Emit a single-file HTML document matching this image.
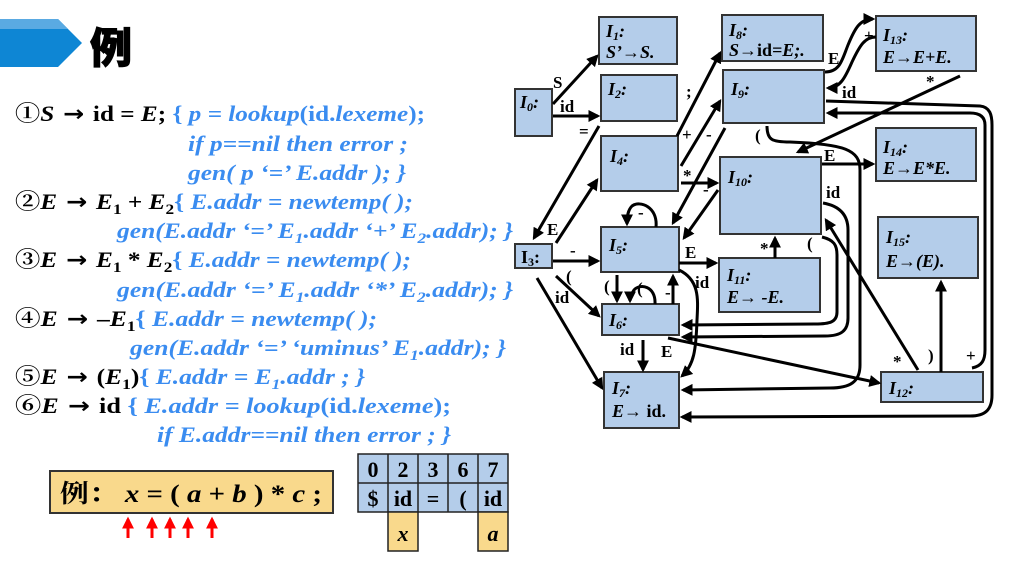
<!DOCTYPE html>
<html><head><meta charset="utf-8"><style>
html,body{margin:0;padding:0;background:#fff;width:1020px;height:572px;overflow:hidden}
svg{display:block}
.t{font-family:"Liberation Serif","Noto Serif CJK SC",serif;font-weight:bold}
.b{fill:#3a8cf0}
.k{fill:#000}
.ar{font-family:"DejaVu Sans",sans-serif;font-weight:bold}
.box{fill:#b4cdea;stroke:#333;stroke-width:2}
.e{fill:none;stroke:#000;stroke-width:3}
.lb{font-family:"Liberation Serif",serif;font-weight:bold;font-size:17px}
.nl{font-family:"Liberation Serif",serif;font-weight:bold;font-style:italic;font-size:18px}
</style></head><body>
<svg width="1020" height="572" viewBox="0 0 1020 572" xmlns="http://www.w3.org/2000/svg">
<defs>
<marker id="a" markerWidth="4" markerHeight="4" refX="3.2" refY="2" orient="auto" markerUnits="strokeWidth">
<path d="M0,0 L4,2 L0,4 z" fill="#000"/></marker>
<marker id="r" markerWidth="4" markerHeight="4" refX="3.2" refY="2" orient="auto" markerUnits="strokeWidth">
<path d="M0,0 L4,2 L0,4 z" fill="#f00"/></marker>
</defs>
<!-- title -->
<polygon points="0,19 58,19 82,43 58,67 0,67" fill="#0e86d4"/>
<polygon points="0,19 58,19 68,29 0,29" fill="#5aaae2"/>
<text x="90" y="63" font-size="42" style="font-family:'Noto Sans CJK SC',sans-serif;font-weight:900" stroke="#000" stroke-width="1">例</text>

<!-- rules -->
<g class="t" font-size="22">
<text x="15" y="121" textLength="410" lengthAdjust="spacingAndGlyphs"><tspan class="k">①</tspan><tspan class="k" font-style="italic">S</tspan><tspan class="k ar"> → </tspan><tspan class="k">id = </tspan><tspan class="k" font-style="italic">E</tspan><tspan class="k">; </tspan><tspan class="b">{ </tspan><tspan class="b" font-style="italic">p = lookup</tspan><tspan class="b">(id.</tspan><tspan class="b" font-style="italic">lexeme</tspan><tspan class="b">);</tspan></text>
<text x="188" y="151" textLength="220" lengthAdjust="spacingAndGlyphs" class="b" font-style="italic">if p==nil then error ;</text>
<text x="188" y="180" textLength="218" lengthAdjust="spacingAndGlyphs" class="b" font-style="italic">gen( p ‘=’ E.addr ); }</text>
<text x="15" y="209" textLength="398" lengthAdjust="spacingAndGlyphs"><tspan class="k">②</tspan><tspan class="k" font-style="italic">E</tspan><tspan class="k ar"> → </tspan><tspan class="k" font-style="italic">E</tspan><tspan class="k" font-size="15" dy="5">1</tspan><tspan class="k" dy="-5"> + </tspan><tspan class="k" font-style="italic">E</tspan><tspan class="k" font-size="15" dy="5">2</tspan><tspan class="b" dy="-5">{ </tspan><tspan class="b" font-style="italic">E.addr = newtemp( );</tspan></text>
<text x="117" y="238" textLength="396" lengthAdjust="spacingAndGlyphs" class="b" font-style="italic">gen(E.addr ‘=’ E<tspan font-size="15" dy="5">1</tspan><tspan dy="-5">.addr ‘+’ E</tspan><tspan font-size="15" dy="5">2</tspan><tspan dy="-5">.addr); }</tspan></text>
<text x="15" y="267" textLength="396" lengthAdjust="spacingAndGlyphs"><tspan class="k">③</tspan><tspan class="k" font-style="italic">E</tspan><tspan class="k ar"> → </tspan><tspan class="k" font-style="italic">E</tspan><tspan class="k" font-size="15" dy="5">1</tspan><tspan class="k" dy="-5"> * </tspan><tspan class="k" font-style="italic">E</tspan><tspan class="k" font-size="15" dy="5">2</tspan><tspan class="b" dy="-5">{ </tspan><tspan class="b" font-style="italic">E.addr = newtemp( );</tspan></text>
<text x="117" y="297" textLength="396" lengthAdjust="spacingAndGlyphs" class="b" font-style="italic">gen(E.addr ‘=’ E<tspan font-size="15" dy="5">1</tspan><tspan dy="-5">.addr ‘*’ E</tspan><tspan font-size="15" dy="5">2</tspan><tspan dy="-5">.addr); }</tspan></text>
<text x="15" y="326" textLength="362" lengthAdjust="spacingAndGlyphs"><tspan class="k">④</tspan><tspan class="k" font-style="italic">E</tspan><tspan class="k ar"> → </tspan><tspan class="k">–</tspan><tspan class="k" font-style="italic">E</tspan><tspan class="k" font-size="15" dy="5">1</tspan><tspan class="b" dy="-5">{ </tspan><tspan class="b" font-style="italic">E.addr = newtemp( );</tspan></text>
<text x="130" y="355" textLength="376" lengthAdjust="spacingAndGlyphs" class="b" font-style="italic">gen(E.addr ‘=’ ‘uminus’ E<tspan font-size="15" dy="5">1</tspan><tspan dy="-5">.addr); }</tspan></text>
<text x="15" y="384" textLength="350" lengthAdjust="spacingAndGlyphs"><tspan class="k">⑤</tspan><tspan class="k" font-style="italic">E</tspan><tspan class="k ar"> → </tspan><tspan class="k">(</tspan><tspan class="k" font-style="italic">E</tspan><tspan class="k" font-size="15" dy="5">1</tspan><tspan class="k" dy="-5">)</tspan><tspan class="b">{ </tspan><tspan class="b" font-style="italic">E.addr = E</tspan><tspan class="b" font-style="italic" font-size="15" dy="5">1</tspan><tspan class="b" font-style="italic" dy="-5">.addr ; }</tspan></text>
<text x="15" y="413" textLength="436" lengthAdjust="spacingAndGlyphs"><tspan class="k">⑥</tspan><tspan class="k" font-style="italic">E</tspan><tspan class="k ar"> → </tspan><tspan class="k">id   </tspan><tspan class="b">{ </tspan><tspan class="b" font-style="italic">E.addr = lookup</tspan><tspan class="b">(id.</tspan><tspan class="b" font-style="italic">lexeme</tspan><tspan class="b">);</tspan></text>
<text x="157" y="442" textLength="294" lengthAdjust="spacingAndGlyphs" class="b" font-style="italic">if E.addr==nil then error ; }</text>
</g>

<!-- example box -->
<rect x="50" y="471" width="283" height="42" fill="#f9d98c" stroke="#333" stroke-width="2"/>
<text x="60" y="502" class="t" font-size="25" textLength="262" lengthAdjust="spacingAndGlyphs"><tspan style="font-family:'Noto Serif CJK SC',serif">例：</tspan> <tspan font-style="italic">x</tspan> = ( <tspan font-style="italic">a</tspan> + <tspan font-style="italic">b</tspan> ) * <tspan font-style="italic">c</tspan> ;</text>
<g stroke="#f00" stroke-width="3">
<line x1="128" y1="538" x2="128" y2="519" marker-end="url(#r)"/>
<line x1="152" y1="538" x2="152" y2="519" marker-end="url(#r)"/>
<line x1="170" y1="538" x2="170" y2="519" marker-end="url(#r)"/>
<line x1="188" y1="538" x2="188" y2="519" marker-end="url(#r)"/>
<line x1="212" y1="538" x2="212" y2="519" marker-end="url(#r)"/>
</g>

<!-- stack table -->
<g stroke="#222" stroke-width="1.5">
<rect x="358" y="454" width="150" height="58" fill="#b4cdea"/>
<line x1="358" y1="483" x2="508" y2="483"/>
<line x1="388" y1="454" x2="388" y2="512"/><line x1="418" y1="454" x2="418" y2="512"/>
<line x1="448" y1="454" x2="448" y2="512"/><line x1="478" y1="454" x2="478" y2="512"/>
<rect x="388" y="512" width="30" height="39" fill="#f9d98c"/>
<rect x="478" y="512" width="30" height="39" fill="#f9d98c"/>
</g>
<g class="t" font-size="22" text-anchor="middle">
<text x="373" y="477">0</text><text x="403" y="477">2</text><text x="433" y="477">3</text><text x="463" y="477">6</text><text x="493" y="477">7</text>
<text x="373" y="506">$</text><text x="403" y="506">id</text><text x="433" y="506">=</text><text x="463" y="506">(</text><text x="493" y="506">id</text>
<text x="403" y="541" font-style="italic">x</text><text x="493" y="541" font-style="italic">a</text>
</g>

<!-- boxes -->
<rect class="box" x="515" y="89" width="37" height="47"/>
<rect class="box" x="599" y="17" width="78" height="47"/>
<rect class="box" x="601" y="75" width="76" height="46"/>
<rect class="box" x="601" y="136" width="77" height="55"/>
<rect class="box" x="722" y="15" width="101" height="46"/>
<rect class="box" x="723" y="70" width="101" height="53"/>
<rect class="box" x="720" y="157" width="101" height="77"/>
<rect class="box" x="876" y="16" width="100" height="55"/>
<rect class="box" x="876" y="128" width="100" height="53"/>
<rect class="box" x="878" y="217" width="100" height="61"/>
<rect class="box" x="515" y="244" width="37" height="24"/>
<rect class="box" x="601" y="227" width="78" height="45"/>
<rect class="box" x="602" y="304" width="77" height="31"/>
<rect class="box" x="604" y="372" width="75" height="56"/>
<rect class="box" x="719" y="258" width="101" height="54"/>
<rect class="box" x="881" y="372" width="102" height="30"/>

<g class="nl">
<text x="520" y="108">I<tspan font-size="12" dy="3">0</tspan><tspan dy="-3">:</tspan></text>
<text x="606" y="37">I<tspan font-size="12" dy="3">1</tspan><tspan dy="-3">:</tspan></text>
<text x="606" y="58">S’→S.</text>
<text x="608" y="95">I<tspan font-size="12" dy="3">2</tspan><tspan dy="-3">:</tspan></text>
<text x="610" y="162">I<tspan font-size="12" dy="3">4</tspan><tspan dy="-3">:</tspan></text>
<text x="729" y="36">I<tspan font-size="12" dy="3">8</tspan><tspan dy="-3">:</tspan></text>
<text x="729" y="56">S→<tspan font-style="normal">id</tspan>=E;.</text>
<text x="731" y="95">I<tspan font-size="12" dy="3">9</tspan><tspan dy="-3">:</tspan></text>
<text x="728" y="183">I<tspan font-size="12" dy="3">10</tspan><tspan dy="-3">:</tspan></text>
<text x="883" y="41">I<tspan font-size="12" dy="3">13</tspan><tspan dy="-3">:</tspan></text>
<text x="883" y="63">E→E+E.</text>
<text x="883" y="153">I<tspan font-size="12" dy="3">14</tspan><tspan dy="-3">:</tspan></text>
<text x="883" y="174">E→E*E.</text>
<text x="886" y="243">I<tspan font-size="12" dy="3">15</tspan><tspan dy="-3">:</tspan></text>
<text x="886" y="267">E→(E).</text>
<text x="521" y="263" font-style="normal">I<tspan font-size="12" dy="3">3</tspan><tspan dy="-3">:</tspan></text>
<text x="609" y="251">I<tspan font-size="12" dy="3">5</tspan><tspan dy="-3">:</tspan></text>
<text x="609" y="326">I<tspan font-size="12" dy="3">6</tspan><tspan dy="-3">:</tspan></text>
<text x="612" y="394">I<tspan font-size="12" dy="3">7</tspan><tspan dy="-3">:</tspan></text>
<text x="612" y="417">E→ <tspan font-style="normal">id.</tspan></text>
<text x="727" y="281">I<tspan font-size="12" dy="3">11</tspan><tspan dy="-3">:</tspan></text>
<text x="727" y="303">E→ -E.</text>
<text x="889" y="394">I<tspan font-size="12" dy="3">12</tspan><tspan dy="-3">:</tspan></text>
</g>

<!-- edges -->
<g class="e">
<path d="M553,104 L597,56" marker-end="url(#a)"/>
<path d="M553,116 L598,116" marker-end="url(#a)"/>
<path d="M599,126 L534,238" marker-end="url(#a)"/>
<path d="M556,243 L597,180" marker-end="url(#a)"/>
<path d="M677,136 L720,53" marker-end="url(#a)"/>
<path d="M681,166 L720,101" marker-end="url(#a)"/>
<path d="M725,128 L673,223" marker-end="url(#a)"/>
<path d="M681,183 L717,183" marker-end="url(#a)"/>
<path d="M718,190 L684,238" marker-end="url(#a)"/>
<path d="M656,227 C658,207 640,200 632,206 C628,210 627,216 627,224" marker-end="url(#a)"/>
<path d="M553,261 L598,261" marker-end="url(#a)"/>
<path d="M556,276 L599,316" marker-end="url(#a)"/>
<path d="M537,278 L602,388" marker-end="url(#a)"/>
<path d="M617,275 L617,301" marker-end="url(#a)"/>
<path d="M655,304 C656,286 640,283 634,290 C631,294 630,298 630,301" marker-end="url(#a)"/>
<path d="M673,304 L673,276" marker-end="url(#a)"/>
<path d="M679,263 L716,263" marker-end="url(#a)"/>
<path d="M679,270 C700,280 698,300 697,320 C696,350 694,365 682,376" marker-end="url(#a)"/>
<path d="M643,340 L643,370" marker-end="url(#a)"/>
<path d="M668,338 L879,383" marker-end="url(#a)"/>
<path d="M775,258 L775,238" marker-end="url(#a)"/>
<path d="M822,164 L873,164" marker-end="url(#a)"/>
<path d="M825,72 C840,72 842,60 848,45 C855,28 860,19 873,19" marker-end="url(#a)"/>
<path d="M876,37 C865,37 860,45 852,62 C845,78 840,88 828,88" marker-end="url(#a)"/>
<path d="M960,76 L798,152" marker-end="url(#a)"/>
<path d="M826,101 L980,106 C990,107 992,115 992,125 L992,395 C992,410 985,416 970,416 L682,417" marker-end="url(#a)"/>
<path d="M972,368 C982,366 985,360 985,350 L985,125 C985,117 980,113 970,113 L828,113" marker-end="url(#a)"/>
<path d="M767,126 C767,140 772,142 790,142 C845,144 860,150 860,170 L860,365 C860,382 850,388 830,388 L683,390" marker-end="url(#a)"/>
<path d="M823,203 C840,206 848,215 848,230 L848,318 C848,330 842,336 825,336 L683,337" marker-end="url(#a)"/>
<path d="M822,237 C834,240 837,245 837,255 L837,312 C837,322 830,324 815,324 L683,325" marker-end="url(#a)"/>
<path d="M918,370 L826,220" marker-end="url(#a)"/>
<path d="M941,372 L941,282" marker-end="url(#a)"/>
</g>

<!-- edge labels -->
<g class="lb">
<text x="553" y="88">S</text>
<text x="560" y="112">id</text>
<text x="579" y="137">=</text>
<text x="686" y="97">;</text>
<text x="682" y="140">+</text>
<text x="706" y="140">-</text>
<text x="683" y="181">*</text>
<text x="703" y="195">-</text>
<text x="638" y="218">-</text>
<text x="547" y="235">E</text>
<text x="570" y="256">-</text>
<text x="566" y="282">(</text>
<text x="555" y="303">id</text>
<text x="604" y="292">(</text>
<text x="637" y="294">(</text>
<text x="665" y="298">-</text>
<text x="685" y="258">E</text>
<text x="695" y="288">id</text>
<text x="620" y="355">id</text>
<text x="661" y="357">E</text>
<text x="760" y="254">*</text>
<text x="807" y="249">(</text>
<text x="826" y="198">id</text>
<text x="824" y="161">E</text>
<text x="755" y="141">(</text>
<text x="828" y="64">E</text>
<text x="864" y="41">+</text>
<text x="926" y="87">*</text>
<text x="842" y="98">id</text>
<text x="893" y="367">*</text>
<text x="928" y="361">)</text>
<text x="966" y="361">+</text>
</g>
</svg>
</body></html>
